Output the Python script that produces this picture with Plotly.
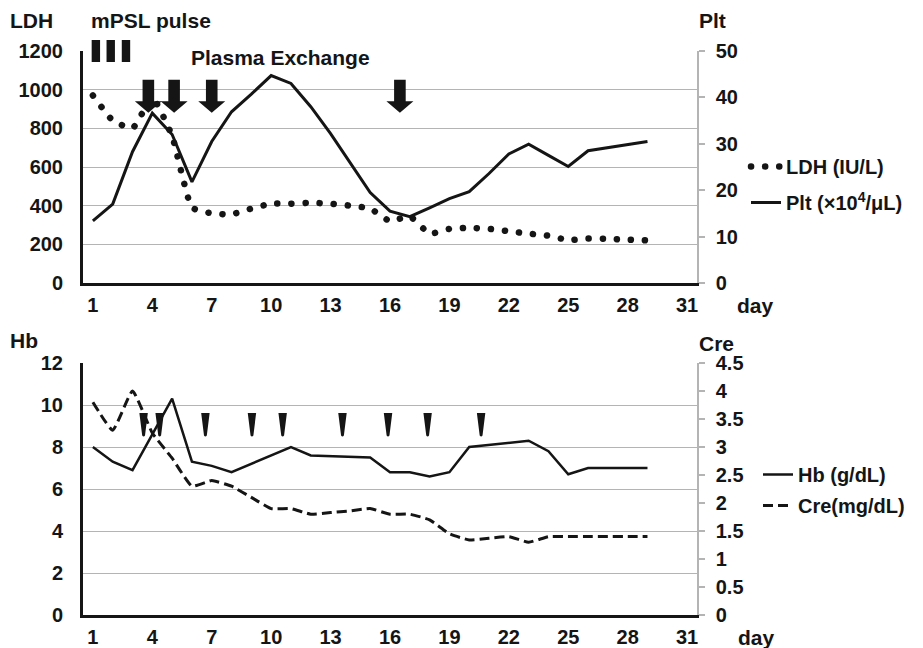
import plotly.graph_objects as go

# ---------------- data ----------------
days = list(range(1, 30))
ldh = [970, 840, 800, 960, 760, 390, 360, 355, 385, 410, 410, 415, 410, 400, 385,
       320, 345, 255, 280, 285, 280, 268, 255, 245, 222, 230, 228, 224, 220]
plt_vals = [13.4, 17.0, 28.3, 36.6, 32.0, 21.8, 30.5, 36.9, 40.7, 44.7, 43.0, 38.0, 32.2, 25.8, 19.5,
            15.5, 14.3, 16.2, 18.2, 19.7, 23.6, 27.8, 29.9, 27.5, 25.1, 28.5, 29.2, 29.9, 30.5]
hb = [8.0, 7.3, 6.9, 8.6, 10.3, 7.3, 7.1, 6.8, 7.2, 7.6, 8.0, 7.6, 7.57, 7.54, 7.5,
      6.8, 6.8, 6.6, 6.8, 8.0, 8.1, 8.2, 8.3, 7.8, 6.7, 7.0, 7.0, 7.0, 7.0]
cre = [3.8, 3.3, 4.0, 3.25, 2.8, 2.3, 2.4, 2.3, 2.1, 1.9, 1.9, 1.8, 1.83, 1.86, 1.9,
       1.8, 1.8, 1.7, 1.45, 1.34, 1.37, 1.4, 1.3, 1.4, 1.4, 1.4, 1.4, 1.4, 1.4]

x_ticks = [1, 4, 7, 10, 13, 16, 19, 22, 25, 28, 31]
ldh_ticks = [0, 200, 400, 600, 800, 1000, 1200]
plt_ticks = [0, 10, 20, 30, 40, 50]
hb_ticks = [0, 2, 4, 6, 8, 10, 12]
cre_ticks = [0, 0.5, 1, 1.5, 2, 2.5, 3, 3.5, 4, 4.5]

# event markers (day positions)
mpsl_marks = [1.15, 1.9, 2.67]
pe_marks = [3.8, 5.1, 7.0, 16.5]
tx_marks = [3.56, 4.37, 6.68, 9.03, 10.58, 13.6, 15.9, 17.9, 20.6]

# ---------------- style ----------------
BLACK = "#151515"
GRID = "#b4b4b4"
FONT = "Liberation Sans"
TICKFONT = dict(family=FONT, size=20, color=BLACK, weight="bold")
TXTFONT = dict(family=FONT, size=21, color=BLACK, weight="bold")

W, H = 923, 648
XD = [83 / W, 697 / W]
YTOP = [1 - 283 / H, 1 - 51 / H]
YBOT = [1 - 615 / H, 1 - 363 / H]

fig = go.Figure()
fig.add_trace(go.Scatter(
    x=days, y=ldh, name="LDH (IU/L)", mode="lines", xaxis="x", yaxis="y",
    line=dict(color=BLACK, width=6.5, dash="0.1px,14px", shape="spline", smoothing=0.4),
    legend="legend", legendgroup="a"))
fig.add_trace(go.Scatter(
    x=days, y=plt_vals, name="Plt (×10<sup>4</sup>/μL)", mode="lines", xaxis="x", yaxis="y2",
    line=dict(color=BLACK, width=3),
    legend="legend", legendgroup="b"))
fig.add_trace(go.Scatter(
    x=days, y=hb, name="Hb (g/dL)", mode="lines", xaxis="x2", yaxis="y3",
    line=dict(color=BLACK, width=2.5),
    legend="legend2", legendgroup="c"))
fig.add_trace(go.Scatter(
    x=days, y=cre, name="Cre(mg/dL)", mode="lines", xaxis="x2", yaxis="y4",
    line=dict(color=BLACK, width=3, dash="10px,5px", shape="spline", smoothing=0.4),
    legend="legend2", legendgroup="d"))

xax = dict(domain=XD, range=[0.5, 31.5], tickvals=x_ticks, showline=True, linecolor=BLACK,
           linewidth=3, showgrid=False, zeroline=False, ticks="", ticklabelstandoff=2,
           tickfont=TICKFONT, automargin=False)
yleft = dict(showgrid=True, gridcolor=GRID, gridwidth=1.2, showline=True, linecolor=BLACK,
             linewidth=3, zeroline=False, ticks="", ticklabelstandoff=13, tickfont=TICKFONT,
             automargin=False)
yright = dict(side="right", showgrid=False, showline=True, linecolor=GRID, linewidth=1.5,
              zeroline=False, ticks="outside", ticklen=6, tickcolor=GRID, tickwidth=1.5,
              ticklabelstandoff=7, tickfont=TICKFONT, automargin=False)

fig.update_layout(
    width=W, height=H, autosize=False,
    margin=dict(l=0, r=0, t=0, b=0, pad=0),
    paper_bgcolor="white", plot_bgcolor="white",
    font=dict(family=FONT, color=BLACK),
    xaxis=dict(xax, anchor="y"),
    xaxis2=dict(xax, anchor="y3"),
    yaxis=dict(yleft, domain=YTOP, range=[0, 1200], tickvals=ldh_ticks, anchor="x"),
    yaxis2=dict(yright, overlaying="y", range=[0, 50], tickvals=plt_ticks, anchor="x"),
    yaxis3=dict(yleft, domain=YBOT, range=[0, 12], tickvals=hb_ticks, anchor="x2"),
    yaxis4=dict(yright, overlaying="y3", range=[0, 4.5], tickvals=cre_ticks, anchor="x2"),
    legend=dict(x=746 / W, y=1 - 147 / H, xanchor="left", yanchor="top",
                font=dict(family=FONT, size=20, color=BLACK, weight="bold"),
                traceorder="grouped", tracegroupgap=7, itemwidth=30,
                bgcolor="rgba(0,0,0,0)"),
    legend2=dict(x=758 / W, y=1 - 455 / H, xanchor="left", yanchor="top",
                 font=dict(family=FONT, size=20, color=BLACK, weight="bold"),
                 traceorder="grouped", tracegroupgap=2, itemwidth=30,
                 bgcolor="rgba(0,0,0,0)"),
    showlegend=True,
)

# text labels
def label(text, x, y, xanchor="left"):
    fig.add_annotation(text=text, x=x / W, y=1 - y / H, xref="paper", yref="paper",
                       xanchor=xanchor, yanchor="middle", showarrow=False, font=TXTFONT)

label("LDH", 8, 20)
label("mPSL pulse", 89, 20)
label("Plt", 697, 20)
label("Plasma Exchange", 189, 58)
label("Hb", 8, 340)
label("Cre", 697, 343)
label("day", 735, 305)
label("day", 736, 637)

# mPSL pulse bars
for d in mpsl_marks:
    fig.add_shape(type="rect", xref="x", yref="paper", xsizemode="pixel", ysizemode="pixel",
                  xanchor=d, yanchor=1 - 62 / H, x0=-4.2, x1=4.2, y0=0, y1=22,
                  fillcolor=BLACK, line=dict(width=0), layer="above")

# plasma exchange arrows
arrow = "M0,0 L-13.5,11.5 L-5.8,11.5 L-5.8,33 L5.8,33 L5.8,11.5 L13.5,11.5 Z"
for d in pe_marks:
    fig.add_shape(type="path", xref="x", yref="y", xsizemode="pixel", ysizemode="pixel",
                  xanchor=d, yanchor=880, path=arrow,
                  fillcolor=BLACK, line=dict(width=0), layer="above")

# transfusion arrowheads
wedge = "M-4.2,24 L4.2,24 L1.4,1.5 Q0,-0.5 -1.4,1.5 Z"
for d in tx_marks:
    fig.add_shape(type="path", xref="x2", yref="y3", xsizemode="pixel", ysizemode="pixel",
                  xanchor=d, yanchor=(615 - 437) / 21, path=wedge,
                  fillcolor=BLACK, line=dict(width=0), layer="above")

post = """
document.body.style.margin = '0';
document.body.style.padding = '0';
document.body.style.overflow = 'hidden';
var gd = document.getElementById('{plot_id}');
function rc(){
  gd.querySelectorAll('path').forEach(function(p){
    var d = p.style.strokeDasharray || '';
    if (d.indexOf('0.1px') === 0) { p.style.strokeLinecap = 'round'; }
  });
}
rc();
if (gd.on) { gd.on('plotly_afterplot', rc); }
"""

fig.write_html("out.html", post_script=post, config={"displayModeBar": False})
